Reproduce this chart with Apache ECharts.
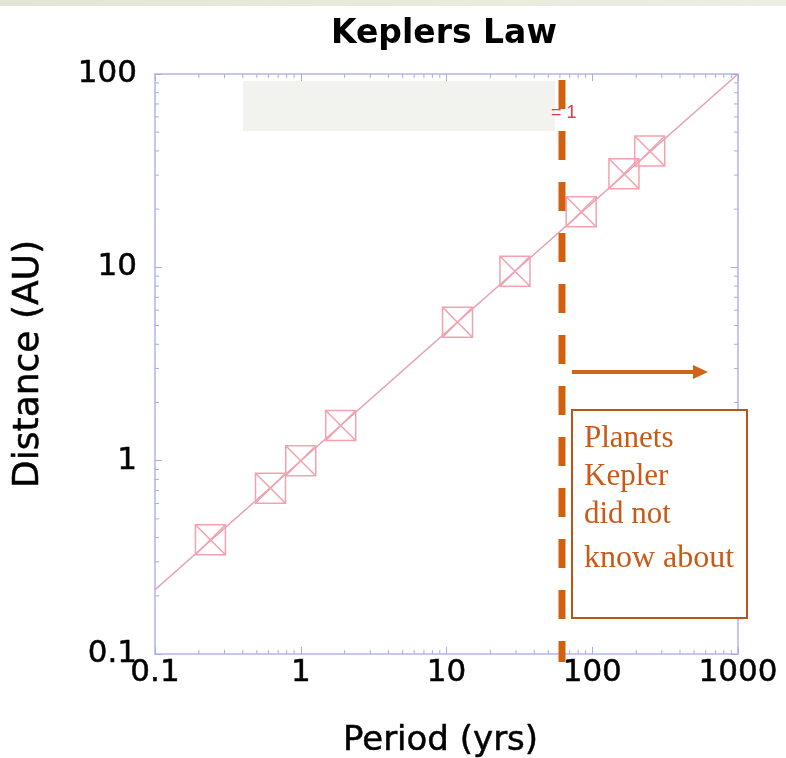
<!DOCTYPE html>
<html>
<head>
<meta charset="utf-8">
<script src="https://cdn.jsdelivr.net/npm/echarts@6/dist/echarts.min.js"></script>
<style>
html,body{margin:0;padding:0;background:#fff;}
#chart{width:786px;height:758px;}
</style>
</head>
<body>
<div id="chart"></div>
<script>
// ---- data ----
const planetPeriods   = [0.24, 0.62, 1.0, 1.88, 11.9, 29.5, 84, 165, 248];
const planetDistances = [0.39, 0.72, 1.0, 1.52, 5.2, 9.55, 19.4, 30.5, 40];
const lawPeriods   = [0.1, 1000];
const lawDistances = [0.215, 100];
const boundaryPeriod = 62;
const xMinorTicks = [0.2,0.3,0.4,0.5,0.6,0.7,0.8,0.9,2,3,4,5,6,7,8,9,20,30,40,50,60,70,80,90,200,300,400,500,600,700,800,900];
const yMinorTicks = [0.2,0.3,0.4,0.5,0.6,0.7,0.8,0.9,2,3,4,5,6,7,8,9,20,30,40,50,60,70,80,90];
const titleText = 'Keplers Law';
const xName = 'Period (yrs)';
const yName = 'Distance (AU)';
const legendTail = '= 1';
const noteLines = ['Planets', 'Kepler', 'did not', 'know about'];

// ---- style ----
const FONT = 'DejaVu Sans';
const axisColor = '#c6c6f3';
const tickColor = '#a9a9ec';
const pink = '#f4a2ad';
const lawColor = '#e6a0b6';
const orange = '#d1600f';
const ink = '#000';
const heavy = {textBorderColor: ink, textBorderWidth: 0.5};

const chart = echarts.init(document.getElementById('chart'), null, {renderer: 'canvas'});

function fmt(v){ return String(+(+v).toPrecision(3)); }

const axisCommon = {
  type: 'log', logBase: 10,
  axisLine: {show: true, lineStyle: {color: axisColor, width: 2}},
  axisTick: {show: true, inside: true, length: 7, lineStyle: {color: tickColor, width: 1}},
  splitLine: {show: false},
  minorTick: {show: false},
};

const series = [
  {
    type: 'line',
    data: lawPeriods.map((p, i) => [p, lawDistances[i]]),
    showSymbol: false,
    symbol: 'none',
    lineStyle: {color: lawColor, width: 1.6},
    z: 3,
    silent: true
  },
  {
    type: 'scatter',
    data: planetPeriods.map((p, i) => [p, planetDistances[i]]),
    symbol: 'path://M0 0H10V10H0Z M0 0L10 10 M10 0L0 10',
    symbolSize: 30,
    itemStyle: {color: 'rgba(0,0,0,0)', borderColor: pink, borderWidth: 1.5, opacity: 1},
    z: 4,
    silent: true
  },
  {
    // vertical dashed boundary line (extends a little below the axis)
    type: 'custom',
    silent: true,
    clip: false,
    data: [[boundaryPeriod, 1]],
    renderItem: function (params, api) {
      const x = api.value(0);
      const t = api.coord([x, 100]);
      const b = api.coord([x, 0.1]);
      return {type: 'line', z2: 20,
        shape: {x1: t[0], y1: t[1], x2: b[0], y2: b[1] + 8},
        style: {stroke: orange, lineWidth: 7, lineDash: [29, 22], lineDashOffset: 45}};
    },
    z: 10
  },
  {
    type: 'custom',
    silent: true,
    data: xMinorTicks.map(v => [v, 1]),
    renderItem: function (params, api) {
      const x = api.value(0);
      const b = api.coord([x, 0.1]);
      const t = api.coord([x, 100]);
      return {type: 'group', children: [
        {type: 'line', shape: {x1: b[0], y1: b[1], x2: b[0], y2: b[1] - 4}, style: {stroke: tickColor, lineWidth: 1}},
        {type: 'line', shape: {x1: t[0], y1: t[1], x2: t[0], y2: t[1] + 4}, style: {stroke: tickColor, lineWidth: 1}}
      ]};
    },
    z: 1
  },
  {
    type: 'custom',
    silent: true,
    data: yMinorTicks.map(v => [1, v]),
    renderItem: function (params, api) {
      const y = api.value(1);
      const l = api.coord([0.1, y]);
      const r = api.coord([1000, y]);
      return {type: 'group', children: [
        {type: 'line', shape: {x1: l[0], y1: l[1], x2: l[0] + 4, y2: l[1]}, style: {stroke: tickColor, lineWidth: 1}},
        {type: 'line', shape: {x1: r[0], y1: r[1], x2: r[0] - 4, y2: r[1]}, style: {stroke: tickColor, lineWidth: 1}}
      ]};
    },
    z: 1
  }
];

const option = {
  backgroundColor: '#ffffff',
  animation: false,
  title: {
    text: titleText,
    left: 326,
    top: 13,
    textStyle: Object.assign({fontFamily: FONT, fontWeight: 'bold', fontSize: 33, color: ink})
  },
  grid: {left: 155, right: 48, top: 74, bottom: 104, containLabel: false, outerBoundsMode: 'none'},
  xAxis: [
    Object.assign({}, axisCommon, {
      position: 'bottom', min: 0.1, max: 1000,
      name: xName, nameLocation: 'middle', nameGap: 70,
      nameTextStyle: Object.assign({fontFamily: FONT, fontSize: 34, color: ink, padding: [0, 12, 0, 0]}, heavy),
      axisLabel: Object.assign({show: true, margin: 3, fontFamily: FONT, fontSize: 31, color: ink,
        formatter: fmt, showMinLabel: true, showMaxLabel: true}, heavy)
    }),
    Object.assign({}, axisCommon, {
      position: 'top', min: 0.1, max: 1000,
      axisLabel: {show: false}
    })
  ],
  yAxis: [
    Object.assign({}, axisCommon, {
      position: 'left', min: 0.1, max: 100,
      name: yName, nameLocation: 'middle', nameGap: 108, nameRotate: 90,
      nameTextStyle: Object.assign({fontFamily: FONT, fontSize: 36, color: ink, padding: [0, 0, 0, 0]}, heavy),
      axisLabel: Object.assign({show: true, margin: 18, fontFamily: FONT, fontSize: 31, color: ink,
        padding: [0, 0, 14, 0],
        formatter: fmt, showMinLabel: true, showMaxLabel: true}, heavy)
    }),
    Object.assign({}, axisCommon, {
      position: 'right', min: 0.1, max: 100,
      axisLabel: {show: false}
    })
  ],
  series: series,
  graphic: [
    {type: 'rect', silent: true, z: 0, shape: {x: 0, y: 0, width: 786, height: 6},
      style: {fill: new echarts.graphic.LinearGradient(0, 0, 1, 0, [
        {offset: 0, color: '#e3e5d4'}, {offset: 1, color: '#eceee2'}])}},
    {type: 'rect', silent: true, z: 0, shape: {x: 243, y: 81, width: 312, height: 50},
      style: {fill: '#f2f2ee'}},
    {type: 'text', silent: true, z: 0, x: 551, y: 104,
      style: {text: legendTail, fontFamily: 'Liberation Sans', fontSize: 18, fill: '#e8364f'}},
    {type: 'line', silent: true, z: 5, shape: {x1: 572, y1: 372, x2: 696, y2: 372},
      style: {stroke: '#d0621a', lineWidth: 4}},
    {type: 'polygon', silent: true, z: 5, shape: {points: [[693, 365], [708, 372], [693, 379]]},
      style: {fill: '#d0621a'}},
    {type: 'rect', silent: true, z: 5, shape: {x: 572, y: 410, width: 175, height: 208},
      style: {fill: '#ffffff', stroke: '#b5561b', lineWidth: 2}},
    {type: 'text', silent: true, z: 6, x: 584, y: 423,
      style: {text: noteLines[0], fontFamily: 'Liberation Serif', fontSize: 31, fill: '#c75a16'}},
    {type: 'text', silent: true, z: 6, x: 584, y: 461,
      style: {text: noteLines[1], fontFamily: 'Liberation Serif', fontSize: 31, fill: '#c75a16'}},
    {type: 'text', silent: true, z: 6, x: 584, y: 499,
      style: {text: noteLines[2], fontFamily: 'Liberation Serif', fontSize: 31, fill: '#c75a16'}},
    {type: 'text', silent: true, z: 6, x: 584, y: 543,
      style: {text: noteLines[3], fontFamily: 'Liberation Serif', fontSize: 32, fill: '#c75a16'}}
  ]
};
chart.setOption(option);
</script>
</body>
</html>
